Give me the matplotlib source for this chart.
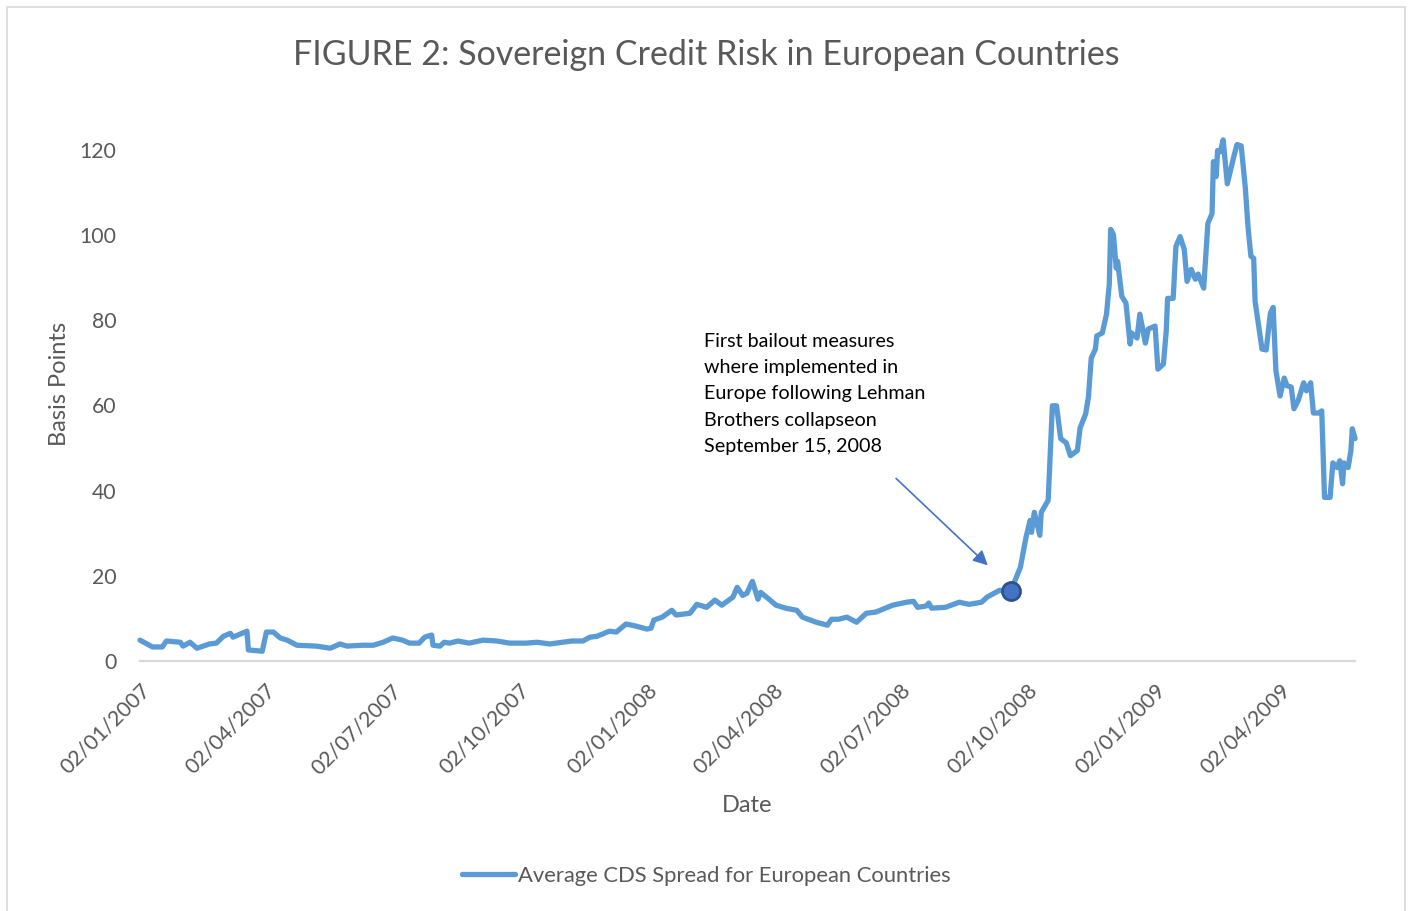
import numpy as np
import pandas as pd
import matplotlib
matplotlib.use('Agg')
from matplotlib import pyplot as plt
import matplotlib.dates as mdates
from matplotlib.patches import Rectangle

plt.rcParams['font.family'] = ['Lato', 'DejaVu Sans']

# average CDS spread (basis points), sampled off the daily series
dates = [
    '2007-01-02', '2007-01-11', '2007-01-18', '2007-01-21', '2007-01-31', '2007-02-02',
    '2007-02-07', '2007-02-12', '2007-02-21', '2007-02-26', '2007-03-03', '2007-03-08',
    '2007-03-10', '2007-03-20', '2007-03-21', '2007-03-31', '2007-04-03', '2007-04-08',
    '2007-04-13', '2007-04-18', '2007-04-25', '2007-05-09', '2007-05-19', '2007-05-26',
    '2007-05-31', '2007-06-11', '2007-06-19', '2007-06-26', '2007-07-03', '2007-07-10',
    '2007-07-15', '2007-07-22', '2007-07-26', '2007-07-31', '2007-08-01', '2007-08-06',
    '2007-08-09', '2007-08-13', '2007-08-19', '2007-08-27', '2007-09-06', '2007-09-16',
    '2007-09-25', '2007-10-07', '2007-10-15', '2007-10-24', '2007-11-02', '2007-11-09',
    '2007-11-17', '2007-11-22', '2007-11-27', '2007-12-06', '2007-12-11', '2007-12-18',
    '2007-12-25', '2008-01-02', '2008-01-05', '2008-01-07', '2008-01-13', '2008-01-20',
    '2008-01-23', '2008-02-02', '2008-02-07', '2008-02-14', '2008-02-20', '2008-02-25',
    '2008-03-04', '2008-03-07', '2008-03-11', '2008-03-14', '2008-03-18', '2008-03-22',
    '2008-03-24', '2008-03-30', '2008-04-04', '2008-04-11', '2008-04-19', '2008-04-23',
    '2008-05-03', '2008-05-11', '2008-05-14', '2008-05-19', '2008-05-25', '2008-06-01',
    '2008-06-08', '2008-06-15', '2008-06-27', '2008-07-07', '2008-07-12', '2008-07-15',
    '2008-07-21', '2008-07-23', '2008-07-25', '2008-08-04', '2008-08-14', '2008-08-21',
    '2008-08-30', '2008-09-03', '2008-09-12', '2008-09-20', '2008-09-27', '2008-10-01',
    '2008-10-04', '2008-10-05', '2008-10-07', '2008-10-11', '2008-10-12', '2008-10-17',
    '2008-10-20', '2008-10-23', '2008-10-26', '2008-10-30', '2008-11-02', '2008-11-07',
    '2008-11-09', '2008-11-13', '2008-11-15', '2008-11-17', '2008-11-20', '2008-11-21',
    '2008-11-25', '2008-11-28', '2008-11-30', '2008-12-01', '2008-12-03', '2008-12-05',
    '2008-12-06', '2008-12-09', '2008-12-12', '2008-12-15', '2008-12-16', '2008-12-20',
    '2008-12-22', '2008-12-26', '2008-12-28', '2009-01-02', '2009-01-04', '2009-01-08',
    '2009-01-10', '2009-01-11', '2009-01-15', '2009-01-17', '2009-01-20', '2009-01-23',
    '2009-01-25', '2009-01-28', '2009-01-31', '2009-02-02', '2009-02-06', '2009-02-09',
    '2009-02-12', '2009-02-13', '2009-02-15', '2009-02-16', '2009-02-18', '2009-02-20',
    '2009-02-23', '2009-02-28', '2009-03-02', '2009-03-05', '2009-03-08', '2009-03-10',
    '2009-03-12', '2009-03-14', '2009-03-15', '2009-03-20', '2009-03-23', '2009-03-26',
    '2009-03-28', '2009-03-30', '2009-04-02', '2009-04-05', '2009-04-07', '2009-04-10',
    '2009-04-12', '2009-04-15', '2009-04-19', '2009-04-21', '2009-04-24', '2009-04-26',
    '2009-04-30', '2009-05-02', '2009-05-04', '2009-05-08', '2009-05-10', '2009-05-13',
    '2009-05-15', '2009-05-17', '2009-05-18', '2009-05-21', '2009-05-23', '2009-05-24',
    '2009-05-26',
]
spread = [
    4.9, 3.3, 3.3, 4.7, 4.4, 3.5,
    4.4, 3.0, 4.0, 4.2, 5.8, 6.5,
    5.6, 7.0, 2.6, 2.3, 6.8, 6.8,
    5.4, 4.9, 3.7, 3.5, 3.0, 4.0,
    3.5, 3.7, 3.7, 4.4, 5.4, 4.9,
    4.2, 4.2, 5.6, 6.1, 3.7, 3.5,
    4.4, 4.2, 4.7, 4.2, 4.9, 4.7,
    4.2, 4.2, 4.4, 4.0, 4.4, 4.7,
    4.7, 5.6, 5.8, 7.0, 6.8, 8.7,
    8.2, 7.5, 7.7, 9.6, 10.3, 11.9,
    10.8, 11.2, 13.3, 12.6, 14.3, 13.1,
    15.0, 17.3, 15.4, 15.9, 18.7, 14.5,
    16.1, 14.5, 13.1, 12.4, 11.9, 10.3,
    9.1, 8.4, 9.8, 9.8, 10.3, 9.1,
    11.2, 11.5, 13.1, 13.8, 14.0, 12.6,
    12.9, 13.6, 12.4, 12.6, 13.8, 13.3,
    13.8, 15.0, 16.6, 16.4, 22.0, 29.0,
    33.0, 30.2, 34.9, 29.5, 34.9, 37.7,
    59.9, 59.9, 52.2, 51.2, 48.2, 49.4,
    54.7, 58.0, 62.0, 71.1, 73.2, 76.3,
    77.0, 81.4, 88.4, 101.3, 100.1, 92.2,
    93.8, 85.6, 84.0, 74.4, 77.0, 75.8,
    81.4, 74.6, 77.9, 78.6, 68.5, 69.7,
    77.4, 85.1, 85.1, 97.3, 99.6, 96.6,
    89.1, 91.9, 89.6, 90.8, 87.5, 102.7,
    105.0, 117.2, 113.7, 119.8, 119.5, 122.3,
    112.0, 118.8, 121.2, 120.9, 110.9, 101.5,
    95.0, 94.5, 84.4, 73.2, 73.0, 81.6,
    83.0, 68.1, 62.2, 66.4, 64.6, 64.3,
    59.2, 61.1, 65.3, 63.4, 65.3, 58.2,
    58.2, 58.7, 38.4, 38.4, 46.5, 45.4,
    47.0, 41.6, 46.5, 45.4, 49.4, 54.5,
    52.2,
]

lehman_date = '2008-09-20'
tick_dates = ['2007-01-02', '2007-04-02', '2007-07-02', '2007-10-02', '2008-01-02',
              '2008-04-02', '2008-07-02', '2008-10-02', '2009-01-02', '2009-04-02']

df = pd.DataFrame({'date': pd.to_datetime(dates), 'spread': spread})
gray = '#595959'

fig = plt.figure(figsize=(14.13, 9.11), dpi=100)
ax = fig.add_axes([0.0991, 0.2744, 0.8599, 0.58])

ax.plot(df['date'], df['spread'], color='#5b9bd5', lw=3.8, solid_joinstyle='round',
        solid_capstyle='round', label='Average CDS Spread for European Countries', clip_on=False)

# point where the series jumps after the Lehman collapse
pt = df[df['date'] == pd.Timestamp(lehman_date)]
ax.plot(pt['date'], pt['spread'], 'o', ms=13, mfc='#4472c4', mec='#2f528f', mew=2, zorder=5,
        clip_on=False)

ax.annotate('', xy=(pd.Timestamp('2008-09-05'), 22.0), xytext=(pd.Timestamp('2008-06-28'), 43.3),
            arrowprops=dict(arrowstyle='-|>', color='#4472c4', lw=1.2, mutation_scale=22))
ax.text(pd.Timestamp('2008-02-12'), 77.0,
        'First bailout measures\nwhere implemented in\nEurope following Lehman\n'
        'Brothers collapseon\nSeptember 15, 2008',
        fontsize=14.2, color='black', va='top', ha='left', linespacing=1.66)

ax.set_xlim(pd.Timestamp('2007-01-02'), pd.Timestamp('2009-05-26'))
ax.set_ylim(0, 124)
ax.set_yticks(np.arange(0, 121, 20))
ax.set_xticks(pd.to_datetime(tick_dates))
ax.xaxis.set_major_formatter(mdates.DateFormatter('%d/%m/%Y'))
plt.setp(ax.get_xticklabels(), rotation=45, ha='right', rotation_mode='anchor')
ax.tick_params(axis='both', length=0, labelsize=15.3, labelcolor=gray)
ax.tick_params(axis='x', pad=14)
ax.tick_params(axis='y', pad=17)

for s in ['top', 'right', 'left']:
    ax.spines[s].set_visible(False)
ax.spines['bottom'].set_color('#d9d9d9')
ax.spines['bottom'].set_linewidth(1.6)

ax.set_xlabel('Date', fontsize=17, color=gray, labelpad=12)
ax.set_ylabel('Basis Points', fontsize=17, color=gray)
ax.yaxis.set_label_coords(-0.058, 0.525)

fig.suptitle('FIGURE 2: Sovereign Credit Risk in European Countries', fontsize=24.5,
             color=gray, y=0.957)

ax.legend(loc='center', bbox_to_anchor=(0.5, 0.0383), bbox_transform=fig.transFigure,
          frameon=False, fontsize=15.8, labelcolor=gray, handlelength=2.4, handletextpad=0.15)

# thin frame around the whole chart
fig.patches.append(Rectangle((7 / 1413, -0.01), 1398 / 1413, 1 - 7 / 911 + 0.01,
                             transform=fig.transFigure, fill=False, ec='#d9d9d9', lw=1.2))

plt.savefig('out.png', dpi=100)
